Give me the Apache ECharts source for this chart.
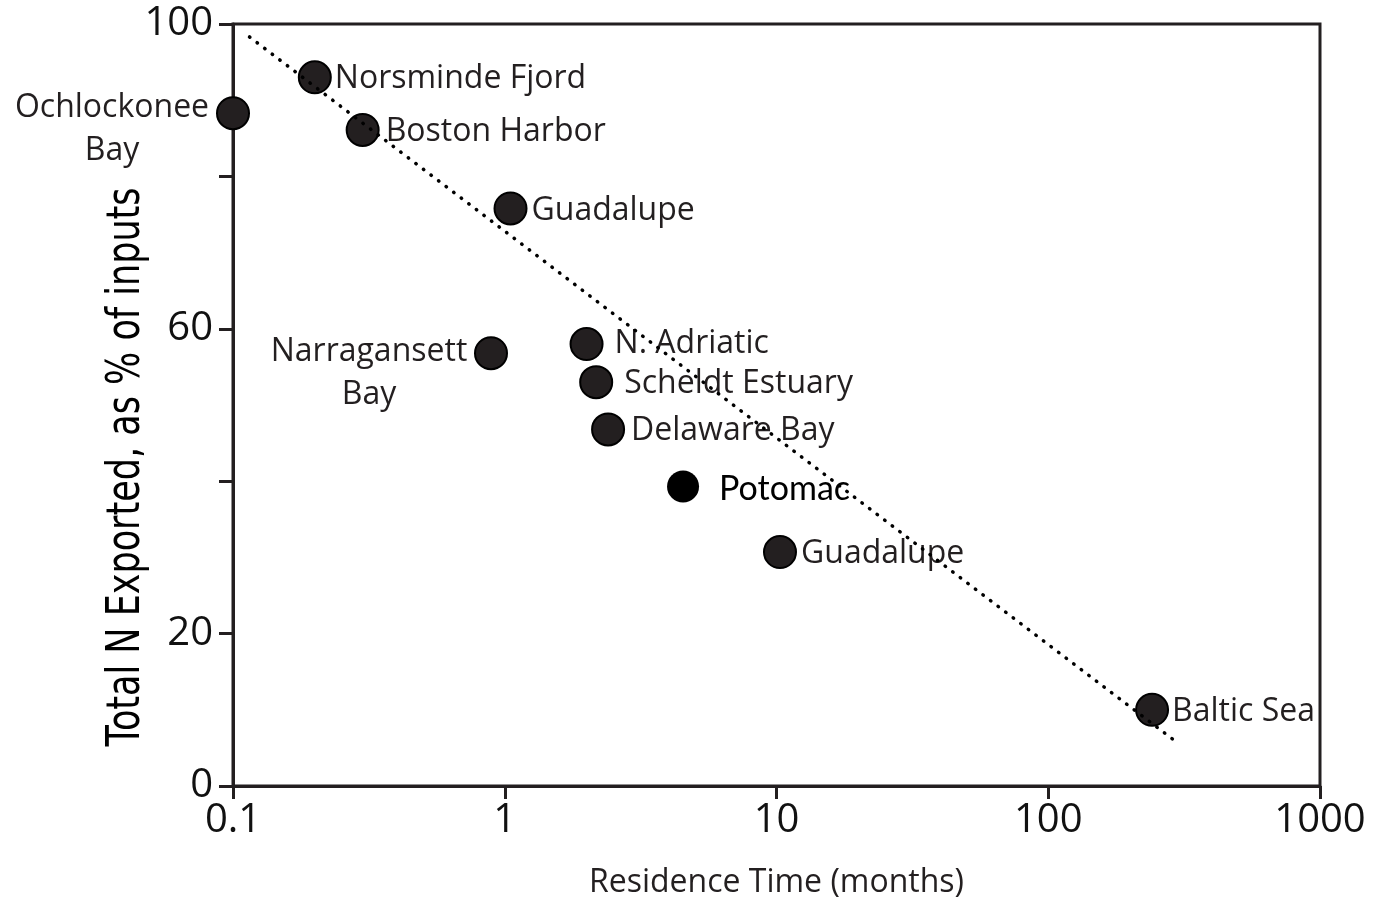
<!DOCTYPE html>
<html>
<head>
<meta charset="utf-8">
<title>Total N exported vs residence time</title>
<script src="https://cdn.jsdelivr.net/npm/echarts@6/dist/echarts.min.js"></script>
<style>
  html, body { margin: 0; padding: 0; background: #fff; }
  #chart { width: 1375px; height: 898px; }
</style>
</head>
<body>
<div id="chart"></div>
<script>
// estuaries
var sites = ["Ochlockonee\nBay", "Norsminde Fjord", "Boston Harbor", "Guadalupe",
  "Narragansett\nBay", "N. Adriatic", "Scheldt Estuary", "Delaware Bay",
  "Potomac", "Guadalupe", "Baltic Sea"];
var residence = [0.1, 0.2, 0.3, 1.05, 0.89, 2.0, 2.17, 2.4, 4.53, 10.3, 241]; // months
var exported = [88.3, 93.0, 86.1, 75.8, 56.8, 58.0, 53.0, 46.8, 39.3, 30.7, 10.0]; // % of inputs

// dotted regression line, end points
var trendX = [0.115, 298];
var trendY = [98.3, 5.7];

var xTicks = [0.1, 1, 10, 100, 1000];
var yLabelled = [0, 20, 60, 100];

var ink = "#231f20";
var labelFont = "'Open Sans', 'Noto Sans', sans-serif";

// label placement per point (index -> label style)
function labelFor(i) {
  var base = { show: true, formatter: "{b}", color: ink, fontFamily: labelFont, fontSize: 32 };
  if (i === 0) {
    return Object.assign(base, { position: [-104, 33], align: "center", verticalAlign: "middle", lineHeight: 43 });
  }
  if (i === 4) {
    return Object.assign(base, { position: [-105, 37], align: "center", verticalAlign: "middle", lineHeight: 43 });
  }
  var gaps = { 1: 3, 2: 6, 3: 4, 5: 11, 6: 11, 7: 6, 8: 20, 9: 4, 10: 3 };
  var lab = Object.assign(base, { position: "right", distance: gaps[i], offset: [0, 2] });
  if (i === 5) lab.offset = [0, 0];
  if (i === 8) {
    lab.fontFamily = "Lato, 'Open Sans', sans-serif";
    lab.fontSize = 34;
    lab.color = "#000";
  }
  return lab;
}

var points = [];
for (var i = 0; i < sites.length; i++) {
  var isPotomac = sites[i] === "Potomac";
  points.push({
    name: sites[i],
    value: [residence[i], exported[i]],
    itemStyle: isPotomac
      ? { color: "#000", borderWidth: 0, opacity: 1 }
      : { color: ink, borderColor: "#000", borderWidth: 2, opacity: 1 },
    label: labelFor(i)
  });
}

var trend = [];
for (var k = 0; k < trendX.length; k++) trend.push([trendX[k], trendY[k]]);

var chart = echarts.init(document.getElementById("chart"));
chart.setOption({
  animation: false,
  backgroundColor: "#fff",
  grid: {
    left: 233, right: 55, top: 24, bottom: 112,
    containLabel: false,
    outerBoundsMode: "none",
    show: true, borderColor: ink, borderWidth: 3, backgroundColor: "transparent"
  },
  xAxis: {
    type: "log",
    logBase: 10,
    min: 0.1,
    max: 1000,
    name: "Residence Time (months)",
    nameLocation: "middle",
    nameGap: 81,
    nameTextStyle: { color: ink, fontFamily: labelFont, fontSize: 32 },
    axisLine: { lineStyle: { color: ink, width: 3 } },
    axisTick: { show: true, length: 13, lineStyle: { color: ink, width: 3 } },
    minorTick: { show: false },
    splitLine: { show: false },
    axisLabel: {
      color: "#111", fontFamily: labelFont, fontSize: 40, margin: 15,
      formatter: function (v) {
        var r = +(+v).toPrecision(6);
        return xTicks.indexOf(r) >= 0 ? String(r) : "";
      }
    }
  },
  yAxis: {
    type: "value",
    min: 0,
    max: 100,
    interval: 20,
    axisLine: { show: true, lineStyle: { color: ink, width: 3 } },
    axisTick: { show: true, length: 14, lineStyle: { color: ink, width: 3 } },
    splitLine: { show: false },
    axisLabel: {
      color: "#111", fontFamily: labelFont, fontSize: 40, margin: 20,
      formatter: function (v) {
        return yLabelled.indexOf(v) >= 0 ? String(v) : "";
      }
    }
  },
  graphic: [{
    type: "text",
    x: 127,
    y: 467,
    rotation: Math.PI / 2,
    scaleY: 1.3,
    style: {
      text: "Total N Exported, as % of inputs",
      fill: "#000",
      font: "35px 'DejaVu Sans', sans-serif",
      align: "center",
      verticalAlign: "middle"
    }
  }],
  series: [
    {
      type: "scatter",
      z: 2,
      clip: false,
      symbol: "circle",
      symbolSize: 32,
      itemStyle: { opacity: 1 },
      data: points
    },
    {
      type: "line",
      z: 5,
      data: trend,
      symbol: "none",
      silent: true,
      lineStyle: { color: "#000", width: 3.5, type: [0.5, 9], cap: "round" }
    }
  ]
});
</script>
</body>
</html>
